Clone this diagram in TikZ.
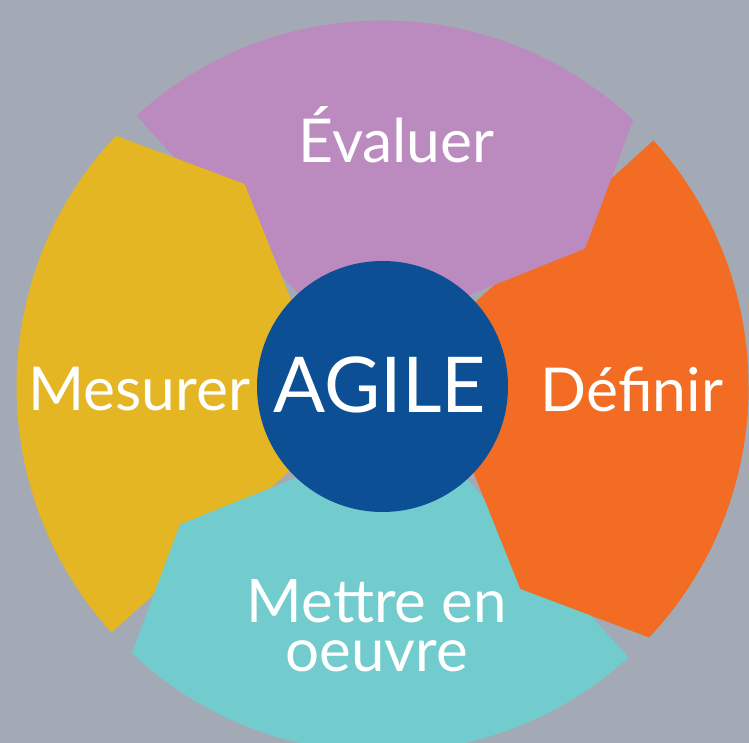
\documentclass[tikz,border=0pt]{standalone}
\usepackage{fontspec}
\setmainfont{Lato}
\definecolor{bggray}{RGB}{163,170,181}
\definecolor{cpurple}{RGB}{187,138,191}
\definecolor{cyellow}{RGB}{228,182,35}
\definecolor{corange}{RGB}{242,108,36}
\definecolor{cteal}{RGB}{114,203,204}
\definecolor{cblue}{RGB}{12,79,148}
\newcommand\ringseg[3]{% tail angle, head angle, colour
  \fill[#3] (#1:366) arc[start angle=#1, end angle=#2, radius=366]
    -- ({#2-12.5}:245) -- (#2:125)
    arc[start angle=#2, end angle=#1, radius=125] -- cycle;}
\tikzset{
  lbl/.style={text=white, anchor=base, inner sep=0pt, font=\fontsize{60.5}{64}\selectfont},
}
\begin{document}
\begin{tikzpicture}[x=1pt,y=1pt]
\fill[bggray] (0,0) rectangle (749,743);
\useasboundingbox (0,0) rectangle (749,743);
\begin{scope}[shift={(382.5,356.5)}]
  \ringseg{42.25}{-43.25}{corange}
  \ringseg{132.25}{46.75}{cpurple}
  \ringseg{222.25}{136.75}{cyellow}
  \ringseg{-47.75}{-133.25}{cteal}
  \begin{scope}
    \clip (-400,-400) rectangle (400,0);
    \ringseg{42.25}{-43.25}{corange}
  \end{scope}
  \node[circle, fill=cblue, minimum size=251pt, inner sep=0pt] (agilecircle) at (0,0) {};
\end{scope}
\node[lbl, font=\fontsize{77}{80}\selectfont] (agile) at (380,330) {AGILE};
\node[lbl] (evaluer) at (396.5,580) {Évaluer};
\node[lbl] (mesurer) at (139,332) {Mesurer};
\node[lbl] (definir) at (632,331) {Définir};
\node[lbl, anchor=south, align=center, font=\fontsize{60}{49}\selectfont] (mettre) at (377,71) {Mettre en\\oeuvre};
\end{tikzpicture}
\end{document}
